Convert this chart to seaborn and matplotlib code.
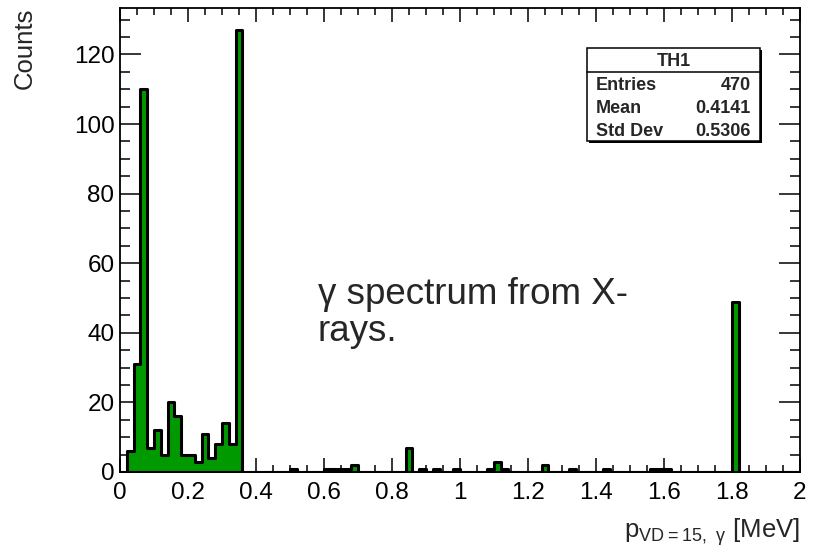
import numpy as np
import pandas as pd
import matplotlib
matplotlib.use("Agg")
import matplotlib.pyplot as plt
from matplotlib.patches import Rectangle
from matplotlib.ticker import MultipleLocator
import seaborn as sns

# histogram content, 0.02 MeV bins from 0 to 2 MeV (only non-empty bins listed)
bin_low = [0.02, 0.04, 0.06, 0.08, 0.10, 0.12, 0.14, 0.16, 0.18, 0.20,
           0.22, 0.24, 0.26, 0.28, 0.30, 0.32, 0.34,
           0.50, 0.60, 0.62, 0.64, 0.66, 0.68, 0.84, 0.88, 0.92, 0.98,
           1.08, 1.10, 1.12, 1.24, 1.32, 1.42, 1.56, 1.58, 1.60, 1.80]
counts = [6, 31, 110, 7, 12, 5, 20, 16, 5, 5,
          3, 11, 4, 8, 14, 8, 127,
          1, 1, 1, 1, 1, 2, 7, 1, 1, 1,
          1, 3, 1, 2, 1, 1, 1, 1, 1, 49]

stat_names = ["Entries", "Mean", "Std Dev"]
stat_values = ["470", "0.4141", "0.5306"]

sns.set_style("ticks")
plt.rcParams["font.family"] = ["Liberation Sans", "DejaVu Sans"]
plt.rcParams["mathtext.default"] = "regular"

W, H = 816, 559
fig = plt.figure(figsize=(W / 100, H / 100), dpi=100)
fx = lambda px: px / W
fy = lambda py: 1 - py / H

ax = fig.add_axes([fx(120), fy(472), fx(800) - fx(120), fy(8) - fy(472)])

df = pd.DataFrame({"p": np.array(bin_low) + 0.01, "n": counts})
sns.histplot(data=df, x="p", weights="n", binwidth=0.02, binrange=(0, 2),
             element="step", fill=True, color="#009900", edgecolor="black",
             linewidth=2.2, alpha=1, ax=ax)

ax.set_xlim(0, 2)
ax.set_ylim(0, 133.35)
ax.xaxis.set_minor_locator(MultipleLocator(0.05))
ax.yaxis.set_major_locator(MultipleLocator(20))
ax.yaxis.set_minor_locator(MultipleLocator(5))
ax.set_xticks(np.arange(0, 2.01, 0.2))
ax.set_xticklabels(["0", "0.2", "0.4", "0.6", "0.8", "1", "1.2", "1.4", "1.6", "1.8", "2"])

for s in ax.spines.values():
    s.set_linewidth(1.3)
    s.set_color("black")
ax.tick_params(axis="both", which="both", direction="in", top=True, right=True,
               labelsize=17.5, colors="black", width=1.1)
ax.tick_params(axis="x", which="major", length=10, pad=7)
ax.tick_params(axis="x", which="minor", length=5)
ax.tick_params(axis="y", which="major", length=15, pad=4)
ax.tick_params(axis="y", which="minor", length=7.5)

ax.set_ylabel("Counts", fontsize=18.5, loc="top")
ax.yaxis.set_label_coords(-0.122, 1.0)
ax.set_xlabel("p$_{VD=15,\\ γ}$ [MeV]", fontsize=18.5, loc="right")
ax.xaxis.set_label_coords(1.0, -0.095)

# stats box
bx0, by0, bx1, by1 = 587, 48, 760, 141
fig.patches.append(Rectangle((fx(bx0) + 0.003, fy(by1) - 0.004), fx(bx1) - fx(bx0), fy(by0) - fy(by1),
                             transform=fig.transFigure, facecolor="black", edgecolor="none", zorder=5))
fig.patches.append(Rectangle((fx(bx0), fy(by1)), fx(bx1) - fx(bx0), fy(by0) - fy(by1),
                             transform=fig.transFigure, facecolor="white", edgecolor="black",
                             linewidth=1.1, zorder=6))
fig.lines.append(plt.Line2D([fx(bx0), fx(bx1)], [fy(72), fy(72)], transform=fig.transFigure,
                            color="black", linewidth=1.1, zorder=7))
fig.text(fx((bx0 + bx1) / 2), fy(66), "TH1", ha="center", va="baseline",
         fontsize=13, fontweight="bold", zorder=8)
for i, (n, v) in enumerate(zip(stat_names, stat_values)):
    yb = 89.5 + i * 23.2
    fig.text(fx(596), fy(yb), n, ha="left", va="baseline", fontsize=13, fontweight="bold", zorder=8)
    fig.text(fx(751), fy(yb), v, ha="right", va="baseline", fontsize=13, fontweight="bold", zorder=8)

# note text (va baseline -> last line)
fig.text(fx(318), fy(341), "γ spectrum from X-\nrays.", ha="left", va="baseline",
         fontsize=26.5, linespacing=1.06)

fig.savefig("out.png", dpi=100)
